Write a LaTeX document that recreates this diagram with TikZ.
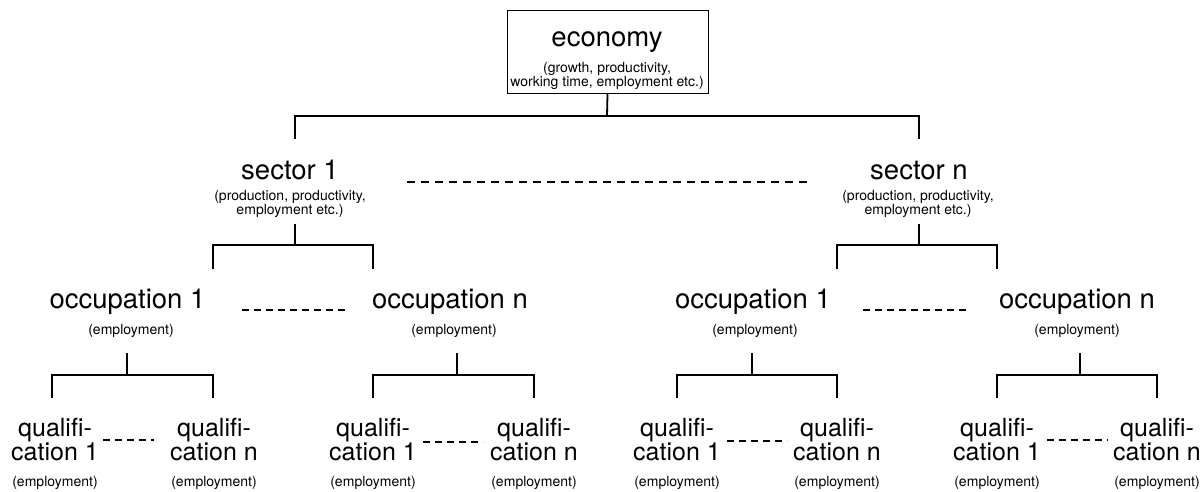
\documentclass[tikz,border=0pt]{standalone}
\usepackage{fontspec}
\setmainfont{TeX Gyre Heros}
\newcommand\twolines[2]{\begin{tabular}[t]{@{}c@{}}#1\\#2\end{tabular}}
\begin{document}
\begin{tikzpicture}[x=1pt,y=-1pt,
  lbl/.style={inner sep=0pt,anchor=base},
  bigtxt/.style={lbl,font=\fontsize{27.5}{30}\selectfont},
  qualtxt/.style={lbl,font=\fontsize{25}{24}\selectfont},
  smalltxt/.style={lbl,font=\fontsize{14}{13.5}\selectfont},
  conn/.style={line width=1.8pt},
  gapline/.style={line width=1.8pt,dash pattern=on 7pt off 5pt},
  wideline/.style={line width=1.8pt,dash pattern=on 8pt off 6pt}]
\useasboundingbox[fill=white] (0,0) rectangle (1202,492);

% top box
\node[draw,line width=0.9pt,minimum width=201pt,minimum height=83pt,inner sep=0pt] (eco) at (607.5,51.5) {};
\node[bigtxt] (ecoT) at (607,47) {economy};
\node[smalltxt] (ecoD) at (607,72.5) {\twolines{(growth, productivity,}{working time, employment etc.)}};

% sectors
\node[bigtxt] (s1) at (290,179) {sector 1};
\node[smalltxt,font=\fontsize{14}{13}\selectfont] (s1D) at (290,200) {\twolines{(production, productivity,}{employment etc.)}};
\node[bigtxt] (sn) at (919,179) {sector n};
\node[smalltxt,font=\fontsize{14}{13}\selectfont] (snD) at (918,200) {\twolines{(production, productivity,}{employment etc.)}};

% occupations
\node[bigtxt] (o11) at (127.5,308) {occupation 1};
\node[smalltxt] (o11D) at (131,334) {(employment)};
\node[bigtxt] (o1n) at (450,308) {occupation n};
\node[smalltxt] (o1nD) at (454,334) {(employment)};
\node[bigtxt] (on1) at (753,308) {occupation 1};
\node[smalltxt] (on1D) at (755,334) {(employment)};
\node[bigtxt] (onn) at (1077,308) {occupation n};
\node[smalltxt] (onnD) at (1077,334) {(employment)};

% qualifications
\foreach \nm/\x/\k in {q111/55/1, q11n/214/n, q1n1/373/1, q1nn/534/n,
                       qn11/677/1, qn1n/837/n, qnn1/997/1, qnnn/1157/n}{
  \node[qualtxt] (\nm) at (\x,436) {\twolines{qualifi-}{cation \k}};
  \node[smalltxt] (\nm D) at (\x,486) {(employment)};
}

% junction points of the tree
\coordinate (e-j) at (607,116);
\coordinate (s1-t) at (295,139);  \coordinate (sn-t) at (919,139);
\coordinate (s1-s) at (295,224);  \coordinate (s1-j) at (295,245);
\coordinate (sn-s) at (919,224);  \coordinate (sn-j) at (919,245);
\coordinate (o11-t) at (213,269); \coordinate (o1n-t) at (373,269);
\coordinate (on1-t) at (837,269); \coordinate (onn-t) at (997,269);
\coordinate (o11-s) at (127,353); \coordinate (o11-j) at (127,375);
\coordinate (o1n-s) at (457,353); \coordinate (o1n-j) at (457,375);
\coordinate (on1-s) at (752,353); \coordinate (on1-j) at (752,375);
\coordinate (onn-s) at (1080,353);\coordinate (onn-j) at (1080,375);
\coordinate (q111-t) at (52,398);  \coordinate (q11n-t) at (213,398);
\coordinate (q1n1-t) at (373,398); \coordinate (q1nn-t) at (534,398);
\coordinate (qn11-t) at (677,398); \coordinate (qn1n-t) at (837,398);
\coordinate (qnn1-t) at (997,398); \coordinate (qnnn-t) at (1157,398);

% brackets
\draw[conn] (eco.south) -- (e-j);
\draw[conn] (s1-t) |- (e-j) -| (sn-t);
\draw[conn] (s1-s) -- (s1-j);
\draw[conn] (o11-t) |- (s1-j) -| (o1n-t);
\draw[conn] (sn-s) -- (sn-j);
\draw[conn] (on1-t) |- (sn-j) -| (onn-t);
\foreach \p/\a/\b in {o11/q111/q11n, o1n/q1n1/q1nn, on1/qn11/qn1n, onn/qnn1/qnnn}{
  \draw[conn] (\p-s) -- (\p-j);
  \draw[conn] (\a-t) |- (\p-j) -| (\b-t);
}

% dashed links between siblings
\coordinate (ds-a) at (407,182); \coordinate (ds-b) at (807,182);
\draw[wideline] (ds-a) -- (ds-b);
\coordinate (do1-a) at (242,310); \coordinate (do1-b) at (345,310);
\coordinate (don-a) at (863,310); \coordinate (don-b) at (970,310);
\draw[gapline] (do1-a) -- (do1-b);
\draw[gapline] (don-a) -- (don-b);
\foreach \nm/\xa/\xb/\yy in {dq1/103/154/440, dq2/423/483/442, dq3/727/787/441, dq4/1047/1108/440}{
  \coordinate (\nm-a) at (\xa,\yy); \coordinate (\nm-b) at (\xb,\yy);
  \draw[gapline] (\nm-a) -- (\nm-b);
}
\end{tikzpicture}
\end{document}
